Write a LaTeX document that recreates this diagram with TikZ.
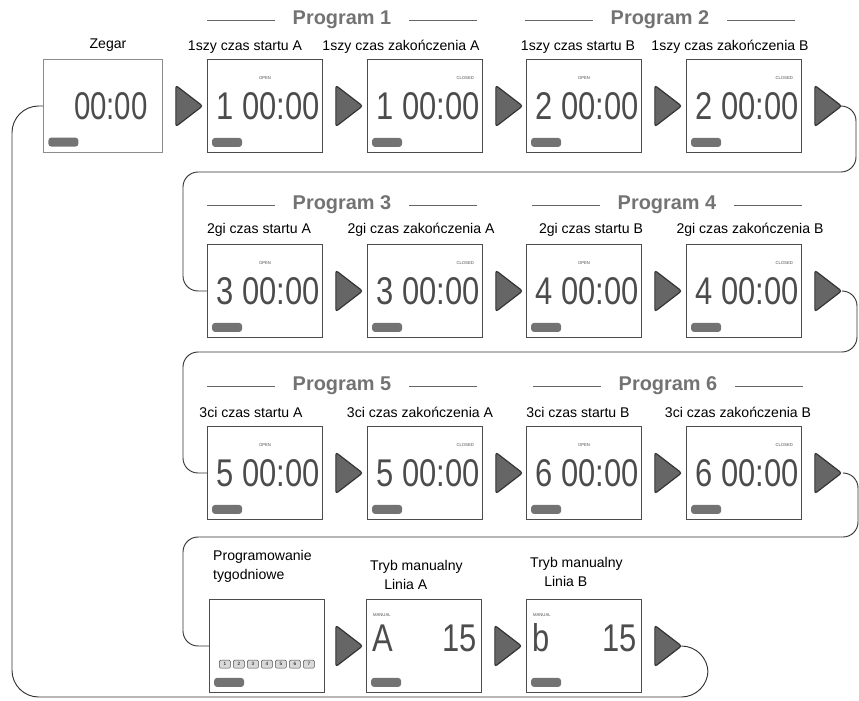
\documentclass[tikz,border=0pt]{standalone}
\usepackage{graphicx}
\usepackage{fontspec}
\setmainfont{Liberation Sans}
\usetikzlibrary{shapes.geometric,positioning}

\begin{document}
\begin{tikzpicture}[x=0.03cm,y=-0.03cm,
  box/.style={draw=black!70,line width=1.1pt,minimum width=3.45cm,minimum height=2.79cm,inner sep=0pt},
  nxt/.style={isosceles triangle,isosceles triangle stretches,minimum height=0.8cm,minimum width=1.23cm,inner sep=0pt,fill=black!60,draw=black!80,line width=1pt,rounded corners=2pt},
  lbl/.style={font=\fontsize{12}{16}\selectfont,inner sep=0pt},
  prg/.style={font=\fontsize{17}{18}\selectfont\bfseries,text=black!55,inner sep=0pt},
  hdr/.style={draw=black!60,line width=0.8pt},
  lcd/.style={font=\fontsize{33}{33}\selectfont,text=black!70,inner sep=0pt},
  tag/.style={font=\fontsize{3.6}{4}\selectfont,text=black!70,inner sep=0pt},
  pill/.style={fill=black!55,rounded corners=2.5pt,minimum width=0.9cm,minimum height=0.27cm,inner sep=0pt,anchor=south west},
  day/.style={draw=black!70,fill=black!15,rounded corners=1pt,minimum width=0.33cm,minimum height=0.24cm,inner sep=0pt,font=\fontsize{4}{4}\selectfont},
  link/.style={draw=black!80,line width=0.8pt,rounded corners=0.45cm}]

\useasboundingbox (0,0) rectangle (859,701);

\node[box,draw=black!45,line width=0.6pt,minimum width=3.57cm] (zegar) at (103,106) {};
\node[nxt] (a10) at (186,106) {};
\node[lcd,anchor=east] (tz) at ([xshift=-0.45cm]zegar.east) {\scalebox{0.76}[1]{00:00}};
\node[pill] (sz) at ([shift={(5,-6)}]zegar.south west) {};

\foreach \r/\y in {1/106,2/291,3/473}
  \foreach \c/\x in {1/265,2/425,3/584,4/744} {
    \pgfmathtruncatemacro\dg{2*(\r-1)+int((\c+1)/2)}
    \node[box] (b\r\c) at (\x,\y) {};
    \node[nxt] (a\r\c) at (\x+81,\y) {};
    \node[lcd,anchor=east] (t\r\c) at ([xshift=-0.1cm]b\r\c.east) {\scalebox{0.8}[1]{\dg\ 00:00}};
    \node[pill] (s\r\c) at ([shift={(5,-6)}]b\r\c.south west) {};
    \ifodd\c
      \node[tag] (o\r\c) at ([yshift=0.84cm]b\r\c.center) {OPEN};
    \else
      \node[tag,anchor=east] (o\r\c) at ([shift={(-9,-28)}]b\r\c.east) {CLOSED};
    \fi
  }

\node[box] (d1) at (267,646) {};
\node[nxt] (a41) at (346,646) {};
\node[box] (d2) at (424,646) {};
\node[nxt] (a42) at (505,646) {};
\node[box] (d3) at (584,646) {};
\node[nxt] (a43) at (665,646) {};

\foreach \k in {1,...,7} \node[day] (w\k) at ([shift={({16+(\k-1)*14},-29)}]d1.south west) {\k};
\foreach \n/\ch in {2/A,3/b} {
  \node[tag,anchor=west] (m\n) at ([shift={(7,16)}]d\n.north west) {MANUAL};
  \node[lcd,anchor=west] (c\n) at ([shift={(6,-8)}]d\n.west) {\scalebox{0.8}[1]{\ch}};
  \node[lcd,anchor=east] (v\n) at ([shift={(-5,-8)}]d\n.east) {\scalebox{0.8}[1]{15}};
}
\foreach \n in {1,2,3} \node[pill] (e\n) at ([shift={(5,-6)}]d\n.south west) {};

\foreach \n/\x/\y in {1/342/20,2/660/20,3/342/205,4/667/205,5/342/386,6/668/386} {
  \node[prg] (p\n) at (\x,\y) {Program \n};
  \draw[hdr] ([xshift=-0.54cm]p\n.west) -- ++(-68,0);
  \draw[hdr] ([xshift=0.54cm]p\n.east) -- ++(68,0);
}

\foreach \t/\x/\y [count=\i] in {Zegar/108/45,1szy czas startu A/245/47,1szy czas zakończenia A/401/47,
  1szy czas startu B/578/47,1szy czas zakończenia B/730/47,2gi czas startu A/259/230,
  2gi czas zakończenia A/421/230,2gi czas startu B/591/230,2gi czas zakończenia B/750/230,
  3ci czas startu A/251/412,3ci czas zakończenia A/420/412,3ci czas startu B/578/412,
  3ci czas zakończenia B/738/412}
  \node[lbl] (l\i) at (\x,\y) {\t};
\node[lbl,align=left,anchor=west] (l14) at (213,566) {Programowanie\\tygodniowe};
\node[lbl,align=left,anchor=west] (l15) at (370,575) {Tryb manualny\\\quad Linia A};
\node[lbl,align=left,anchor=west] (l16) at (530,572) {Tryb manualny\\\quad Linia B};

\draw[link] (a14.east) -- (856,106) -- (856,172) -- (183,172) -- (183,291) -- (b21.west);
\draw[link] (a24.east) -- (857,291) -- (857,352) -- (183,352) -- (183,473) -- (b31.west);
\draw[link] (a34.east) -- (858,473) -- (858,537) -- (183,537) -- (183,646) -- (d1.west);
\draw[link,rounded corners=0.8cm] (a43.east) -- (708,646) -- (708,697) -- (12,697) -- (12,106) -- (zegar.west);

\end{tikzpicture}
\end{document}
